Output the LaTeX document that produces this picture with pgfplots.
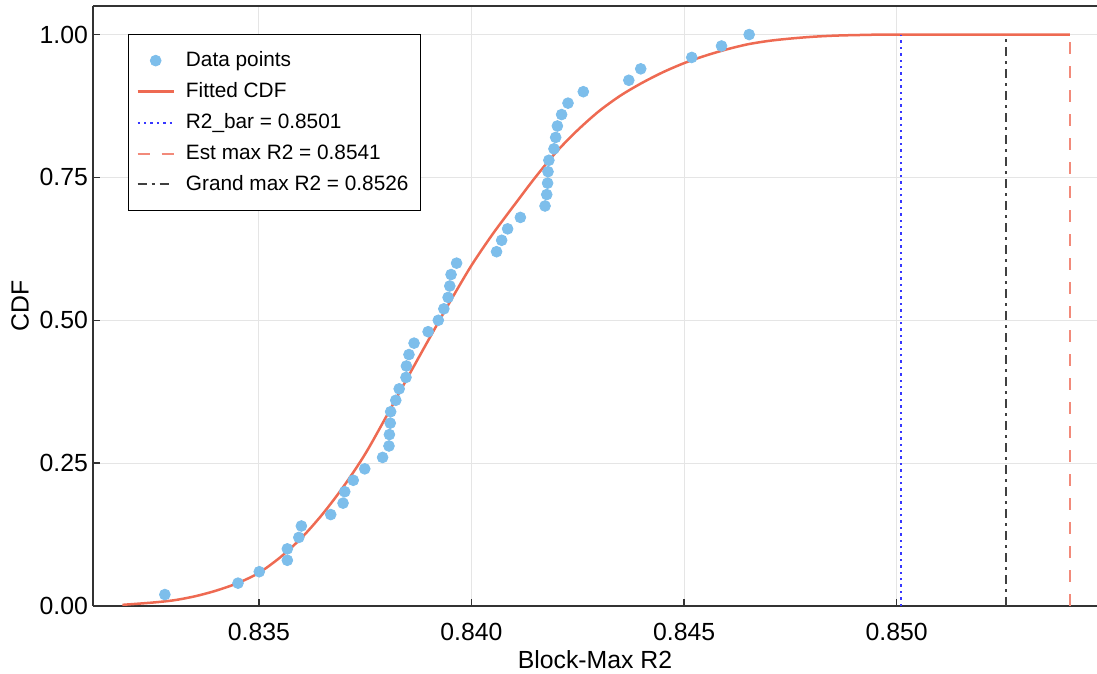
\documentclass[border=0pt]{standalone}
\usepackage{fontspec}
\setmainfont{Liberation Sans}
\usepackage{pgfplots}
\pgfplotsset{compat=1.18}

\definecolor{ptblue}{RGB}{125,190,235}
\definecolor{fitred}{RGB}{238,106,82}
\definecolor{barblue}{RGB}{55,55,255}
\definecolor{estred}{RGB}{242,138,122}
\definecolor{granddark}{RGB}{64,64,64}
\definecolor{gridgray}{RGB}{229,229,229}
\definecolor{axisdark}{RGB}{51,51,51}

\begin{document}
\begin{tikzpicture}
\begin{axis}[
    scale only axis,
    width=502pt, height=300pt,
    xmin=0.83110, xmax=0.85471,
    ymin=0, ymax=1.05,
    axis x line*=box, axis y line*=left,
    xtick pos=left,
    axis line style={draw=axisdark, line width=0.75pt},
    tick style={draw=axisdark, line width=0.75pt},
    tick align=inside,
    major tick length=3.5pt,
    xtick={0.835,0.840,0.845,0.850},
    ytick={0,0.25,0.5,0.75,1},
    scaled x ticks=false,
    /pgf/number format/assume math mode=true,
    xticklabel style={/pgf/number format/fixed, /pgf/number format/fixed zerofill,
        /pgf/number format/precision=3, yshift=-5pt},
    yticklabel style={/pgf/number format/fixed, /pgf/number format/fixed zerofill,
        /pgf/number format/precision=2, xshift=1pt},
    tick label style={font=\fontsize{12.4}{14}\selectfont},
    label style={font=\fontsize{12.4}{14}\selectfont},
    xlabel={Block-Max R2},
    ylabel={CDF},
    xlabel style={at={(axis description cs:0.5,-0.089)}, anchor=center},
    ylabel style={at={(axis description cs:-0.0727,0.5)}, anchor=center},
    grid=major,
    grid style={draw=gridgray, line width=0.5pt},
    legend image code/.code={\draw[mark repeat=2,mark phase=2,#1] plot coordinates {(0pt,0pt) (9pt,0pt) (18pt,0pt)};},
    legend style={at={(axis description cs:0.0349,0.953)}, anchor=north west,
        draw=black, font=\fontsize{10.4}{12}\selectfont,
        row sep=2.5pt, column sep=3.5pt, inner xsep=4pt, inner ysep=6.5pt, cells={anchor=west}},
]

% empirical points, CDF = i/50
\addplot[only marks, mark=*, mark size=2.7pt, color=ptblue, mark options={draw=ptblue, fill=ptblue}] coordinates {
    (0.83279,0.02) (0.83451,0.04) (0.83501,0.06) (0.83567,0.08) (0.83567,0.10)
    (0.83594,0.12) (0.83600,0.14) (0.83669,0.16) (0.83698,0.18) (0.83702,0.20)
    (0.83722,0.22) (0.83749,0.24) (0.83791,0.26) (0.83806,0.28) (0.83807,0.30)
    (0.83809,0.32) (0.83810,0.34) (0.83822,0.36) (0.83830,0.38) (0.83846,0.40)
    (0.83847,0.42) (0.83853,0.44) (0.83865,0.46) (0.83898,0.48) (0.83922,0.50)
    (0.83935,0.52) (0.83945,0.54) (0.83949,0.56) (0.83952,0.58) (0.83965,0.60)
    (0.84059,0.62) (0.84071,0.64) (0.84085,0.66) (0.84115,0.68) (0.84173,0.70)
    (0.84177,0.72) (0.84179,0.74) (0.84180,0.76) (0.84182,0.78) (0.84194,0.80)
    (0.84198,0.82) (0.84202,0.84) (0.84212,0.86) (0.84227,0.88) (0.84263,0.90)
    (0.84370,0.92) (0.84398,0.94) (0.84518,0.96) (0.84588,0.98) (0.84653,1.00)
};
\addlegendentry{Data points}

% fitted curve
\addplot[color=fitred, line width=1.25pt, smooth] coordinates {
    (0.83179,0.002) (0.8325,0.006) (0.8330,0.010) (0.8335,0.017) (0.8340,0.027)
    (0.8345,0.040) (0.8350,0.058) (0.8355,0.085) (0.8360,0.119) (0.8365,0.161)
    (0.8370,0.210) (0.8375,0.266) (0.8380,0.332) (0.8385,0.400) (0.8390,0.467)
    (0.8395,0.533) (0.8400,0.596) (0.8405,0.651) (0.8410,0.701) (0.8415,0.750)
    (0.8420,0.795) (0.8425,0.833) (0.8430,0.866) (0.8435,0.893) (0.8440,0.915)
    (0.8445,0.934) (0.8450,0.950) (0.8455,0.963) (0.8460,0.974) (0.8465,0.983)
    (0.8470,0.989) (0.8475,0.993) (0.8480,0.996) (0.8485,0.998) (0.8490,0.999)
    (0.8500,1.000) (0.85407,1.000)
};
\addlegendentry{Fitted CDF}

\addplot[color=barblue, line width=1pt, dash pattern=on 1.2pt off 2pt] coordinates {(0.8501,0) (0.8501,1)};
\addlegendentry{R2\_bar = 0.8501}

\addplot[color=estred, line width=1pt, dash pattern=on 6pt off 6pt] coordinates {(0.85407,0) (0.85407,1)};
\addlegendentry{Est max R2 = 0.8541}

\addplot[color=granddark, line width=1pt, dash pattern=on 4.5pt off 2.5pt on 1.5pt off 2.5pt] coordinates {(0.85258,0) (0.85258,1)};
\addlegendentry{Grand max R2 = 0.8526}

\end{axis}
\pgfresetboundingbox
\path[use as bounding box] ([shift={(-46.5pt,-33.75pt)}]current axis.south west) rectangle ([shift={(0pt,3pt)}]current axis.north east);
\end{tikzpicture}
\end{document}
